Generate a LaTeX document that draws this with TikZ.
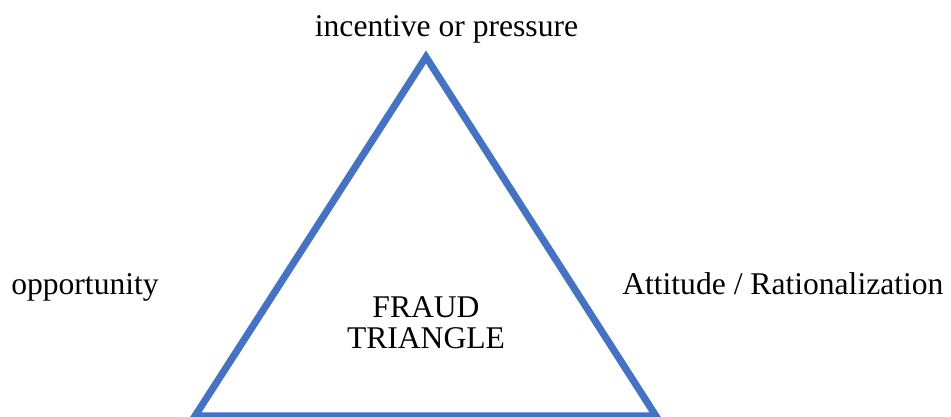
\documentclass[tikz,border=0pt]{standalone}
\usepackage{fontspec}
\setmainfont{Liberation Serif}
\definecolor{triblue}{HTML}{4472C4}
\begin{document}
\begin{tikzpicture}[x=0.75pt,y=-0.75pt,
  lbl/.style={font=\fontsize{23.7}{23.25}\selectfont, inner sep=0pt, align=center},
  tri/.style={draw=triblue, line width=5.3pt, line join=miter}]
\useasboundingbox (0,0) rectangle (951,417);
\coordinate (apex) at (426,57);
\coordinate (bl) at (195,416);
\coordinate (br) at (656,416);
\draw[tri] (apex) -- (bl) -- (br) -- cycle;
\node[lbl, anchor=base] (top) at (446.5,37) {incentive or pressure};
\node[lbl, anchor=base west] (opp) at (11,295) {opportunity};
\node[lbl, anchor=base west] (att) at (622,295) {Attitude / Rationalization};
\node[lbl, anchor=base] (fraud) at (426,318) {FRAUD};
\node[lbl, anchor=base] (trin) at (426,349) {TRIANGLE};
\end{tikzpicture}
\end{document}
